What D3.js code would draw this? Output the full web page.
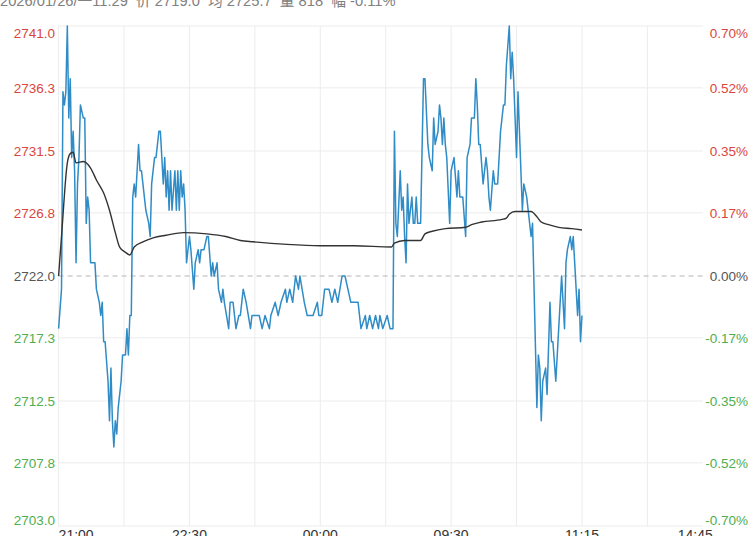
<!DOCTYPE html>
<html>
<head>
<meta charset="utf-8">
<script src="https://cdn.jsdelivr.net/npm/d3@7"></script>
<style>
  body { margin: 0; background: #fff; }
  svg { display: block; font-family: "Liberation Sans", Arial, "Noto Sans CJK SC", sans-serif; }
</style>
</head>
<body>
<script>
// header line (partly cut off at the top in the original)
var header = "2026/01/26/一11:29  价 2719.0  均 2725.7  量 818  幅 -0.11%";

var preClose = 2722.0;

// price axis labels (left) and percent labels (right)
var priceLabels = ["2741.0", "2736.3", "2731.5", "2726.8", "2722.0", "2717.3", "2712.5", "2707.8", "2703.0"];
var pctLabels = ["0.70%", "0.52%", "0.35%", "0.17%", "0.00%", "-0.17%", "-0.35%", "-0.52%", "-0.70%"];

// time axis: minutes from 21:00 on the trading-minute axis
var timeTicks = [0, 90, 180, 270, 360, 450];
var timeLabels = ["21:00", "22:30", "00:00", "09:30", "11:15", "14:45"];

// last price (minute index, price)
var priceMin = [0, 2, 3, 4, 5, 6, 7, 8, 9, 10, 11, 12, 13, 14, 15, 17, 18, 19, 20, 21, 22, 25, 26, 28, 29, 30,
    31, 32, 34, 35, 36, 37, 38, 39, 40, 41, 43, 44, 46, 47, 48, 49, 50, 51, 52, 53, 55, 56, 57, 58, 60, 62, 63, 64,
    66, 67, 69, 70, 71, 72, 73, 74, 75, 76, 77, 78, 80, 81, 82, 83, 84, 85, 86, 87, 88, 90, 91, 93, 94, 96, 97, 98,
    100, 102, 103, 105, 106, 107, 109, 110, 112, 113, 114, 117, 118, 120, 122, 124, 125, 127, 129, 132, 133, 138,
    140, 142, 145, 146, 149, 151, 153, 156, 157, 159, 161, 163, 165, 166, 169, 171, 175, 178, 179, 181, 183, 186,
    188, 190, 192, 195, 197, 199, 201, 204, 206, 208, 211, 212, 214, 216, 218, 220, 221, 223, 226, 228, 230, 231,
    232, 233, 235, 236, 237, 238, 239, 240, 241, 242, 243, 244, 245, 246, 247, 249, 251, 252, 254, 255, 257, 258,
    259, 261, 262, 263, 264, 265, 266, 267, 269, 270, 272, 274, 275, 276, 278, 280, 281, 283, 284, 286, 287, 288,
    289, 290, 292, 294, 295, 296, 297, 299, 300, 302, 304, 306, 307, 308, 310, 311, 312, 313, 315, 316, 318, 319,
    320, 322, 324, 325, 326, 329, 330, 331, 332, 333, 335, 336, 338, 339, 340, 342, 344, 346, 348, 349, 350, 352,
    353, 354, 355, 357, 358, 359, 360];
var priceVal = [2718, 2721, 2736, 2735, 2736, 2741, 2734, 2737, 2731, 2733, 2730, 2723, 2729, 2731, 2735, 2734,
    2734, 2726, 2728, 2727, 2723, 2723, 2721, 2720, 2719, 2720, 2717, 2717, 2714, 2711, 2715, 2711, 2709, 2711,
    2710, 2712, 2714, 2716, 2716, 2718, 2716, 2719, 2719, 2728, 2729, 2728, 2732, 2730, 2730, 2729, 2727, 2726,
    2725, 2729, 2731, 2731, 2733, 2733, 2731, 2729, 2731, 2728, 2730, 2727, 2730, 2727, 2730, 2727, 2730, 2727,
    2730, 2728, 2729, 2727, 2723, 2725, 2724, 2721, 2723, 2724, 2723, 2724, 2724, 2725, 2725, 2722, 2723, 2722,
    2723, 2721, 2720, 2721, 2720, 2718, 2720, 2720, 2718, 2719, 2719, 2721, 2720, 2718, 2719, 2719, 2718, 2719,
    2718, 2719, 2720, 2719, 2720, 2721, 2720, 2721, 2720, 2722, 2721, 2722, 2720, 2719, 2719, 2720, 2719, 2719,
    2721, 2721, 2720, 2721, 2720, 2722, 2722, 2721, 2720, 2720, 2720, 2718, 2719, 2718, 2719, 2718, 2719, 2718,
    2719, 2718, 2719, 2718, 2718, 2733, 2726, 2725, 2730, 2727, 2728, 2725, 2723, 2729, 2726, 2727, 2728, 2726,
    2726, 2728, 2726, 2726, 2737, 2737, 2732, 2731, 2730, 2734, 2732, 2733, 2735, 2734, 2732, 2734, 2732, 2731,
    2726, 2730, 2731, 2728, 2730, 2728, 2728, 2725, 2731, 2732, 2734, 2734, 2737, 2735, 2732, 2732, 2729, 2731,
    2730, 2728, 2727, 2730, 2729, 2729, 2733, 2735, 2735, 2738, 2741, 2737, 2739, 2737, 2731, 2736, 2730, 2727,
    2729, 2728, 2726, 2725, 2726, 2712, 2716, 2715, 2711, 2714, 2715, 2713, 2720, 2717, 2717, 2714, 2718, 2722,
    2718, 2723, 2724, 2725, 2724, 2725, 2723, 2719, 2721, 2717, 2719];

// average price line
var avgMin = [0, 2, 6, 8, 10, 12, 17, 22, 26, 31, 35, 39, 42, 46, 49, 52, 58, 65, 74, 86, 102, 115, 125, 134,
    157, 180, 203, 229, 231, 238, 249, 252, 257, 266, 280, 284, 291, 305, 308, 310, 314, 318, 325, 329, 332, 337,
    344, 353, 360];
var avgVal = [2722, 2725, 2730.6, 2731.3, 2731.4, 2730.6, 2730.7, 2730.2, 2729.3, 2728.3, 2727.0, 2725.3, 2724.2,
    2723.8, 2723.6, 2724.2, 2724.6, 2724.9, 2725.1, 2725.3, 2725.2, 2725.0, 2724.7, 2724.6, 2724.4, 2724.3, 2724.3,
    2724.2, 2724.5, 2724.7, 2724.7, 2725.2, 2725.4, 2725.6, 2725.7, 2725.9, 2726.1, 2726.3, 2726.4, 2726.7, 2726.9,
    2726.9, 2726.9, 2726.5, 2726.1, 2725.9, 2725.7, 2725.6, 2725.5];

var width = 750, height = 536;
var plotLeft = 58.6, plotRight = 712.8, plotTop = 26, plotBottom = 526;

var red = "#d9463e", green = "#4fae4f", grey = "#555";

var svg = d3.select("body").append("svg")
    .attr("width", width)
    .attr("height", height);

var xScale = d3.scaleLinear()
    .domain([0, 450])
    .range([plotLeft, plotRight]);

var yScale = d3.scaleLinear()
    .domain([2703, 2741])
    .range([plotBottom, plotTop]);

// header
svg.append("text")
    .attr("x", 0)
    .attr("y", 6)
    .attr("font-size", "14.7px")
    .attr("font-family", "'Liberation Sans', Arial, 'Noto Sans CJK SC', sans-serif")
    .attr("fill", "#808080")
    .style("white-space", "pre")
    .text(header);

// vertical grid, every 45 minutes
var grid = svg.append("g");
d3.range(0, 450, 45).forEach(m => {
    grid.append("line")
        .attr("x1", xScale(m)).attr("x2", xScale(m))
        .attr("y1", plotTop).attr("y2", plotBottom)
        .attr("stroke", "#ececec");
});

// horizontal grid + labels
function labelColor(v) {
    if (v > preClose + 0.01) return red;
    if (v < preClose - 0.01) return green;
    return grey;
}

priceLabels.forEach((lab, i) => {
    var v = +lab;
    var y = yScale(v);
    var isZero = Math.abs(v - preClose) < 0.01;
    grid.append("line")
        .attr("x1", plotLeft).attr("x2", 703)
        .attr("y1", y).attr("y2", y)
        .attr("stroke", isZero ? "#b5b5b5" : "#ececec")
        .attr("stroke-dasharray", isZero ? "5,4" : null);

    // first and last labels stay inside the plot
    var ty = y, dy = "0.35em";
    if (i === 0) { ty = y + 12; dy = 0; }
    if (i === priceLabels.length - 1) { ty = y - 1; dy = 0; }

    svg.append("text")
        .attr("x", 55)
        .attr("y", ty)
        .attr("dy", dy)
        .attr("text-anchor", "end")
        .attr("font-size", "13.5px")
        .attr("fill", labelColor(v))
        .text(lab);

    svg.append("text")
        .attr("x", 748)
        .attr("y", ty)
        .attr("dy", dy)
        .attr("text-anchor", "end")
        .attr("font-size", "13.5px")
        .attr("fill", labelColor(v))
        .text(pctLabels[i]);
});

// time labels
timeTicks.forEach((m, i) => {
    var anchor = "middle";
    if (i === 0) anchor = "start";
    if (i === timeTicks.length - 1) anchor = "end";
    svg.append("text")
        .attr("x", xScale(m))
        .attr("y", 540)
        .attr("text-anchor", anchor)
        .attr("font-size", "14px")
        .attr("fill", "#333")
        .text(timeLabels[i]);
});

var priceData = priceMin.map((m, i) => ({m: m, v: priceVal[i]}));
var avgData = avgMin.map((m, i) => ({m: m, v: avgVal[i]}));

var priceLine = d3.line()
    .x(d => xScale(d.m))
    .y(d => yScale(d.v));

var avgLine = d3.line()
    .x(d => xScale(d.m))
    .y(d => yScale(d.v))
    .curve(d3.curveMonotoneX);

svg.append("path")
    .datum(priceData)
    .attr("d", priceLine)
    .attr("fill", "none")
    .attr("stroke", "#2f8cc6")
    .attr("stroke-width", 1.5)
    .attr("stroke-linejoin", "round");

svg.append("path")
    .datum(avgData)
    .attr("d", avgLine)
    .attr("fill", "none")
    .attr("stroke", "#333")
    .attr("stroke-width", 1.4);
</script>
</body>
</html>
